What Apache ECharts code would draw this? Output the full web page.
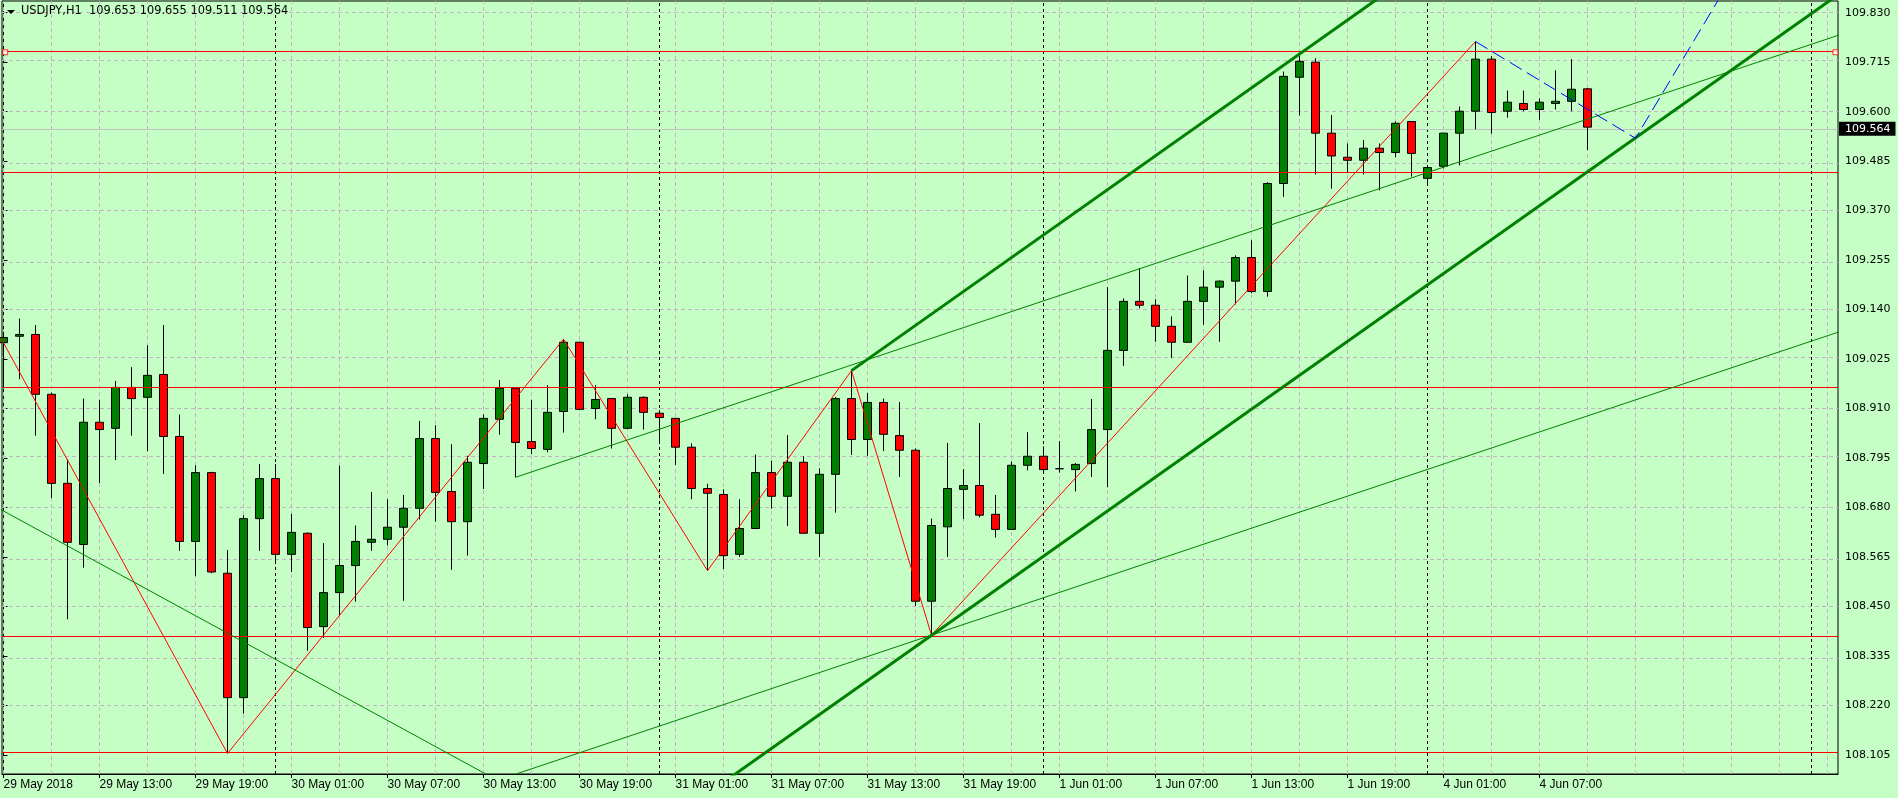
<!DOCTYPE html>
<html>
<head>
<meta charset="utf-8">
<script src="https://cdn.jsdelivr.net/npm/echarts@6/dist/echarts.min.js"></script>
<style>
html,body{margin:0;padding:0;background:#c5ffc5;}
#chart{width:1898px;height:798px;}
</style>
</head>
<body>
<div id="chart"></div>
<script>
// ---------- DATA ----------
const symbolName = 'USDJPY,H1';
// hourly bars, bar 0 = 29 May 2018 07:00
const opens = [
109.063,109.078,109.082,108.943,108.736,108.594,108.878,108.864,108.959,108.936,
108.989,108.845,108.601,108.761,108.527,108.238,108.654,108.747,108.571,108.620,
108.403,108.482,108.545,108.599,108.606,108.634,108.678,108.840,108.717,108.647,
108.782,108.885,108.957,108.833,108.815,108.903,109.064,108.910,108.933,108.864,
108.936,108.899,108.887,108.820,108.724,108.710,108.571,108.631,108.761,108.706,
108.785,108.620,108.757,108.933,108.838,108.924,108.847,108.813,108.462,108.635,
108.722,108.731,108.664,108.629,108.778,108.799,108.770,108.768,108.782,108.861,
109.045,109.159,109.150,109.101,109.064,109.159,109.192,109.206,109.261,109.182,
109.433,109.680,109.715,109.550,109.494,109.487,109.515,109.505,109.577,109.445,
109.473,109.550,109.601,109.722,109.601,109.619,109.605,109.619,109.624,109.653];
const highs = [
109.088,109.119,109.104,108.947,108.792,108.933,108.930,108.974,109.006,109.057,
109.104,108.896,108.778,108.763,108.581,108.662,108.781,108.781,108.665,108.622,
108.597,108.777,108.638,108.716,108.699,108.709,108.881,108.871,108.827,108.800,
108.896,108.976,108.960,108.930,108.964,109.071,109.065,108.964,108.934,108.943,
108.938,108.906,108.888,108.829,108.735,108.722,108.699,108.803,108.789,108.848,
108.799,108.771,108.937,108.998,108.946,108.933,108.925,108.817,108.654,108.830,
108.769,108.876,108.709,108.787,108.855,108.822,108.834,108.783,108.932,109.192,
109.166,109.236,109.164,109.124,109.219,109.231,109.208,109.266,109.301,109.436,
109.693,109.731,109.724,109.592,109.526,109.534,109.526,109.577,109.578,109.476,
109.551,109.612,109.763,109.729,109.649,109.649,109.631,109.696,109.722,109.655];
const lows = [
108.957,108.978,108.847,108.702,108.420,108.540,108.737,108.790,108.847,108.811,
108.758,108.579,108.521,108.527,108.108,108.201,108.579,108.550,108.530,108.347,
108.377,108.430,108.461,108.579,108.592,108.463,108.652,108.647,108.535,108.568,
108.723,108.849,108.750,108.804,108.808,108.854,108.906,108.885,108.817,108.862,
108.861,108.830,108.779,108.699,108.533,108.537,108.565,108.630,108.677,108.637,
108.619,108.565,108.668,108.802,108.800,108.811,108.751,108.451,108.383,108.565,
108.653,108.657,108.610,108.628,108.766,108.763,108.761,108.717,108.751,108.727,
109.009,109.143,109.065,109.027,109.063,109.105,109.065,109.152,109.178,109.170,
109.402,109.591,109.454,109.421,109.457,109.454,109.417,109.494,109.449,109.431,
109.468,109.475,109.559,109.549,109.586,109.601,109.581,109.605,109.601,109.511];
const closes = [
109.075,109.082,108.943,108.736,108.599,108.878,108.861,108.959,108.933,108.987,
108.845,108.601,108.761,108.530,108.238,108.654,108.747,108.571,108.622,108.401,
108.482,108.545,108.601,108.606,108.634,108.678,108.840,108.715,108.647,108.785,
108.887,108.957,108.831,108.817,108.901,109.064,108.908,108.931,108.864,108.936,
108.901,108.889,108.820,108.724,108.713,108.568,108.631,108.761,108.706,108.785,
108.620,108.757,108.933,108.838,108.924,108.850,108.813,108.462,108.638,108.724,
108.731,108.662,108.629,108.778,108.799,108.768,108.770,108.780,108.861,109.045,
109.159,109.150,109.101,109.064,109.159,109.192,109.206,109.261,109.182,109.433,
109.682,109.717,109.550,109.497,109.487,109.515,109.505,109.573,109.503,109.470,
109.550,109.601,109.722,109.598,109.622,109.605,109.622,109.624,109.652,109.564];

const timeTickBars = [0,6,12,18,24,30,36,42,48,54,60,66,72,78,84,90,96];
const timeTickLabels = ['29 May 2018','29 May 13:00','29 May 19:00','30 May 01:00','30 May 07:00',
  '30 May 13:00','30 May 19:00','31 May 01:00','31 May 07:00','31 May 13:00','31 May 19:00',
  '1 Jun 01:00','1 Jun 07:00','1 Jun 13:00','1 Jun 19:00','4 Jun 01:00','4 Jun 07:00'];
const priceTicks = [108.105,108.220,108.335,108.450,108.565,108.680,108.795,108.910,
  109.025,109.140,109.255,109.370,109.485,109.600,109.715,109.830];
const daySeparatorBars = [17,41,65,89,113];
const levelLines = [109.738,109.464,108.959,108.383,108.112];
const selectedLevel = 109.738;
// zigzag: off-screen start, then pivots on bar highs/lows
const zigzagStart = [-1, 109.131];
const zigzagPivots = [[14,'low'],[35,'high'],[44,'low'],[53,'high'],[58,'low'],[92,'high']];
// drawn objects (bar index, price)
const thickChannelLower = [[45,108.041],[116,109.907]];
const thickChannelUpper = [[53,108.998],[116,110.654]];
const thinChannelA = [[32,108.750],[116,109.794]];
const thinChannelB = [[32,108.060],[116,109.104]];
const thinLineC = [[-1,108.692],[31,108.043]];
const projectionLine = [[92,109.763],[102,109.538],[108,109.911]];

// ---------- AXIS RANGE ----------
const xMin = -0.09375, xMax = 114.65625;
const yMin = 108.0604, yMax = 109.8572;

const FONT_Y = 'DejaVu Sans';
const FONT_X = 'Liberation Sans';

const candleData = opens.map((o,i)=>[i, o, closes[i], lows[i], highs[i]]);
const zigzagData = [zigzagStart].concat(zigzagPivots.map(p=>[p[0], p[1]==='high'?highs[p[0]]:lows[p[0]]]));
const lastIdx = closes.length-1;
const lastClose = closes[lastIdx];

const gridColor = '#c3b4c3';
const vGrid = [];
for (let b = 0; b <= 114; b += 3) vGrid.push({xAxis: b});
const hGrid = priceTicks.map(v=>({yAxis: v}));

function lineSeries(data, color, width, z, dash) {
  return {type:'line', data:data, showSymbol:false, symbol:'none', silent:true, z:z,
    lineStyle:{color:color, width:width, type: dash || 'solid'}, clip:true, animation:false};
}
function markLineHolder(z, markLine) {
  markLine.z = z;
  markLine.symbol = ['none','none'];
  markLine.silent = true;
  markLine.animation = false;
  return {type:'line', data:[[0,108.5]], showSymbol:false, symbol:'none', lineStyle:{opacity:0}, z:z, silent:true, markLine:markLine};
}

const chart = echarts.init(document.getElementById('chart'), null, {renderer:'canvas'});
chart.setOption({
  animation:false,
  backgroundColor:'#c5ffc5',
  grid:{left:2, right:60, top:1, bottom:24, show:true, borderColor:'#000', borderWidth:1, backgroundColor:'transparent'},
  xAxis:{type:'value', min:xMin, max:xMax,
    axisLine:{onZero:false, lineStyle:{color:'#000', width:1}},
    axisTick:{show:true, customValues:timeTickBars, length:4, lineStyle:{color:'#000'}},
    axisLabel:{customValues:timeTickBars, formatter:v=>timeTickLabels[timeTickBars.indexOf(Math.round(v))]||'',
      align:'left', margin:5, color:'#000', fontFamily:FONT_X, fontSize:12},
    splitLine:{show:false}},
  yAxis:{type:'value', position:'right', min:yMin, max:yMax,
    axisLine:{show:true, lineStyle:{color:'#000', width:1}},
    axisTick:{show:true, customValues:priceTicks, length:4, lineStyle:{color:'#000'}},
    axisLabel:{customValues:priceTicks, formatter:v=>v.toFixed(3), margin:7, color:'#000', fontFamily:FONT_Y, fontSize:11},
    splitLine:{show:false}},
  graphic:[
    {type:'polygon', shape:{points:[[7,10],[15,10],[11,14]]}, style:{fill:'#000'}, z:100},
    {type:'text', left:21, top:6, style:{text: symbolName + '  ' + [opens[lastIdx],highs[lastIdx],lows[lastIdx],closes[lastIdx]].map(v=>v.toFixed(3)).join(' '),
      fill:'#000', font:'11.4px "DejaVu Sans"'}, z:100}
  ],
  series:[
    markLineHolder(1, {label:{show:false}, lineStyle:{color:gridColor, type:[4,3], width:1}, data: vGrid.concat(hGrid)}),
    markLineHolder(1, {label:{show:false}, lineStyle:{color:'#000', type:[3,3], width:1}, data: daySeparatorBars.map(b=>({xAxis:b}))}),
    markLineHolder(2, {lineStyle:{color:'#c0c0c0', type:'solid', width:1},
        label:{show:true, position:'end', distance:1, formatter:lastClose.toFixed(3), color:'#fff', backgroundColor:'#000',
          fontFamily:FONT_Y, fontSize:11, padding:[2,5,1,6]},
        data:[{yAxis:lastClose}]}),
    {
      type:'candlestick', data:candleData, barWidth:9, z:3, clip:true, silent:true,
      itemStyle:{color:'#008000', color0:'#ff0000', borderColor:'#000', borderColor0:'#000', borderColorDoji:'#000', borderWidth:1}
    },
    markLineHolder(4, {label:{show:false}, lineStyle:{color:'#ff0000', type:'solid', width:1}, data: levelLines.map(v=>({yAxis:v}))}),
    lineSeries(zigzagData, '#ff0000', 1, 5),
    lineSeries(thinLineC, '#008000', 1, 5),
    lineSeries(thinChannelA, '#008000', 1, 5),
    lineSeries(thinChannelB, '#008000', 1, 5),
    lineSeries(thickChannelLower, '#008000', 3, 6),
    lineSeries(thickChannelUpper, '#008000', 3, 6),
    lineSeries(projectionLine, '#0000ff', 1, 6, [14,6]),
    {type:'scatter', data:[[xMin+0.2, selectedLevel],[xMax-0.16, selectedLevel]], symbol:'rect', symbolSize:5, z:7, silent:true,
      itemStyle:{color:'#fff', borderColor:'#ff0000', borderWidth:1}, clip:false}
  ]
});
</script>
</body>
</html>
